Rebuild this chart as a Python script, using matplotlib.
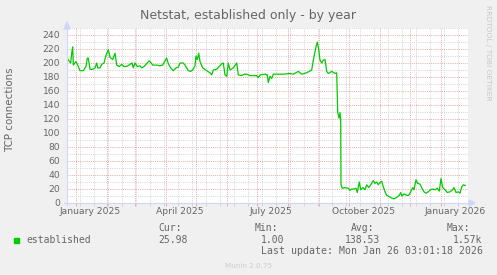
import numpy as np
import pandas as pd
import matplotlib
matplotlib.use("Agg")
import matplotlib.pyplot as plt
import matplotlib.dates as mdates
from matplotlib.patches import Polygon, Rectangle
from matplotlib.lines import Line2D
from matplotlib.transforms import blended_transform_factory

# data: hari sejak 2024-12-23, jumlah koneksi
start = pd.Timestamp("2024-12-23")
days = [0, 1.3, 3.7, 4.7, 5.7, 6.3, 9, 11.3, 13, 16.3,
        19, 20.3, 21.3, 23, 25.7, 28, 29.7, 30.7, 33, 34.7,
        37, 39, 41.3, 43, 45.7, 48, 49.7, 52.3, 54.7, 57,
        59.7, 63, 65, 66.3, 68, 70.3, 73, 74.7, 77, 79.7,
        82, 83.7, 85.7, 89.7, 93, 95.7, 98, 99.7, 101.3, 103.7,
        106.3, 109, 111.3, 113, 116.3, 118, 121.3, 123.7, 125.7, 128,
        129, 130.3, 131.7, 133, 135.7, 139.7, 143, 144.7, 146.3, 149.7,
        152.3, 154.7, 156.3, 158, 159.7, 161.3, 163, 166.3, 169.7, 171.3,
        174.7, 177, 179.7, 183, 189.7, 191.3, 193, 198, 200.3, 201.3,
        203, 204.7, 206.3, 216.3, 223, 226.3, 231.3, 234.7, 239.7, 244.7,
        246.3, 249, 250.3, 251.7, 253, 254.7, 256.3, 258, 259.7, 261.3,
        264.7, 268, 269.7, 270.7, 272, 273, 273.7, 274, 275.3, 278,
        281.3, 283, 284.7, 287, 289, 290.3, 292.3, 293.7, 295.7, 298,
        299.7, 301.7, 303.7, 306.3, 308, 309.7, 311.3, 313, 314.7, 316.3,
        318, 319.7, 322.3, 324.7, 327, 329.7, 332.3, 333.7, 335, 337,
        339.7, 341.7, 343.7, 345.7, 347, 349, 350.7, 353, 355, 357,
        359, 361.3, 363.7, 365.7, 368, 370.3, 372.3, 374, 375.7, 378,
        380.3, 383, 385.7, 387, 389, 391.3, 393, 394.7, 396.3, 398.3]
established = [208, 204, 200, 214, 223, 197, 202, 195, 189, 189,
               195, 207, 207, 191, 191, 193, 200, 193, 193, 198,
               200, 211, 219, 208, 205, 214, 197, 195, 198, 195,
               195, 198, 200, 193, 200, 195, 196, 193, 195, 199,
               203, 201, 197, 197, 196, 197, 203, 207, 199, 193,
               189, 193, 194, 200, 200, 197, 189, 188, 190, 196,
               210, 205, 214, 202, 193, 189, 186, 183, 190, 191,
               195, 199, 200, 183, 181, 200, 190, 193, 200, 183,
               182, 184, 184, 182, 182, 179, 183, 184, 183, 172,
               181, 178, 184, 184, 185, 184, 188, 184, 186, 190,
               204, 223, 230, 219, 204, 200, 204, 205, 188, 185,
               188, 185, 186, 130, 121, 129, 119, 26, 21, 22,
               21, 18, 20, 20, 21, 15, 30, 19, 22, 19,
               26, 22, 26, 32, 28, 30, 26, 29, 31, 23,
               16, 11, 9, 7, 6, 8, 11, 15, 10, 13,
               11, 11, 16, 22, 19, 33, 28, 27, 21, 16,
               14, 16, 19, 20, 19, 21, 17, 35, 22, 19,
               15, 16, 19, 22, 15, 16, 14, 23, 26, 25]

label_dates = ["2025-01-15", "2025-04-15", "2025-07-15", "2025-10-15", "2026-01-15"]
label_texts = ["January 2025", "April 2025", "July 2025", "October 2025", "January 2026"]

legend_name = "established"
stats_head = ["Cur:", "Min:", "Avg:", "Max:"]
stats_vals = ["25.98", "1.00", "138.53", "1.57k"]
last_update = "Last update: Mon Jan 26 03:01:18 2026"

W, H = 497, 275
BACK = "#f0f0f0"
FONT = "#666666"
AXIS = "#cfd6f8"
GREEN = "#00cc00"

def fx(px):
    return px / W

def fy(py):
    return 1 - py / H

fig = plt.figure(figsize=(W / 100, H / 100), dpi=100, facecolor=BACK)
L, R, T, B = 67, 468, 28, 203
ax = fig.add_axes([fx(L), fy(B), (R - L) / W, (B - T) / H])
ax.set_facecolor("white")

t = start + pd.to_timedelta(days, unit="D")
ax.plot(t, established, color=GREEN, lw=0.9, zorder=3)

ax.set_ylim(0, 250)
ax.set_xlim(start, start + pd.Timedelta(days=401))

# grid
ax.xaxis.set_major_locator(mdates.MonthLocator())
ax.xaxis.set_minor_locator(mdates.WeekdayLocator(byweekday=mdates.SU, interval=2))
ax.yaxis.set_major_locator(plt.MultipleLocator(20))
ax.yaxis.set_minor_locator(plt.MultipleLocator(10))
ax.xaxis.set_major_formatter(plt.NullFormatter())
ax.grid(which="minor", color="#d4d4d4", lw=0.7, ls=(0, (1, 1.2)))
ax.grid(which="major", color="#e9a8a8", lw=0.7, ls=(0, (1, 1.2)))
ax.set_axisbelow(True)
for s in ax.spines.values():
    s.set_visible(False)

ax.tick_params(axis="x", which="major", length=2, color="#e9a8a8", width=0.7)
ax.tick_params(axis="x", which="minor", length=2, color="#d4d4d4", width=0.7)
ax.tick_params(axis="y", which="both", length=0, pad=5, labelsize=6.6, labelcolor=FONT)

tr = blended_transform_factory(ax.transData, ax.transAxes)
for d, s in zip(label_dates, label_texts):
    ax.text(pd.Timestamp(d), -0.05, s, transform=tr, ha="center", va="center",
            fontsize=6.6, color=FONT)

# axis lines and arrows
fig.add_artist(Line2D([fx(L), fx(L)], [fy(B + 2), fy(25)], color=AXIS, lw=0.8))
fig.add_artist(Line2D([fx(L - 3), fx(R + 3)], [fy(B), fy(B)], color=AXIS, lw=0.8))
fig.add_artist(Polygon([[fx(L - 3), fy(29)], [fx(L + 3), fy(29)], [fx(L), fy(22)]],
                       closed=True, color=AXIS, transform=fig.transFigure))
fig.add_artist(Polygon([[fx(R + 1), fy(B - 3)], [fx(R + 1), fy(B + 3)], [fx(R + 7), fy(B)]],
                       closed=True, color=AXIS, transform=fig.transFigure))

# texts
fig.text(0.5, fy(16), "Netstat, established only - by year", ha="center", va="center",
         fontsize=9, color=FONT)
fig.text(fx(10.5), fy(110), "TCP connections", rotation=90, ha="center", va="center",
         fontsize=7.4, color=FONT)
fig.text(fx(488), fy(53), "RRDTOOL / TOBI OETIKER", rotation=270, ha="center", va="center",
         fontsize=5.4, color="#c8c8c8")

mono = "DejaVu Sans Mono"
fig.add_artist(Rectangle((fx(14), fy(243)), 5 / W, 5 / H, color=GREEN,
                         transform=fig.transFigure))
fig.text(fx(26), fy(240), legend_name, family=mono, fontsize=7, color=FONT, va="center")
head_x = [158, 255, 351, 447]
val_x = [158, 261, 345, 453]
for hx, h in zip(head_x, stats_head):
    fig.text(fx(hx), fy(228), h, family=mono, fontsize=7, color=FONT, va="center")
for vx, v in zip(val_x, stats_vals):
    fig.text(fx(vx), fy(240), v, family=mono, fontsize=7, color=FONT, va="center")
fig.text(fx(261), fy(251), last_update, family=mono, fontsize=7.1, color=FONT, va="center")
fig.text(fx(249), fy(266), "Munin 2.0.75", ha="center", va="center", fontsize=5.2,
         color="#cccccc")

fig.savefig("out.png", dpi=100, facecolor=BACK)
